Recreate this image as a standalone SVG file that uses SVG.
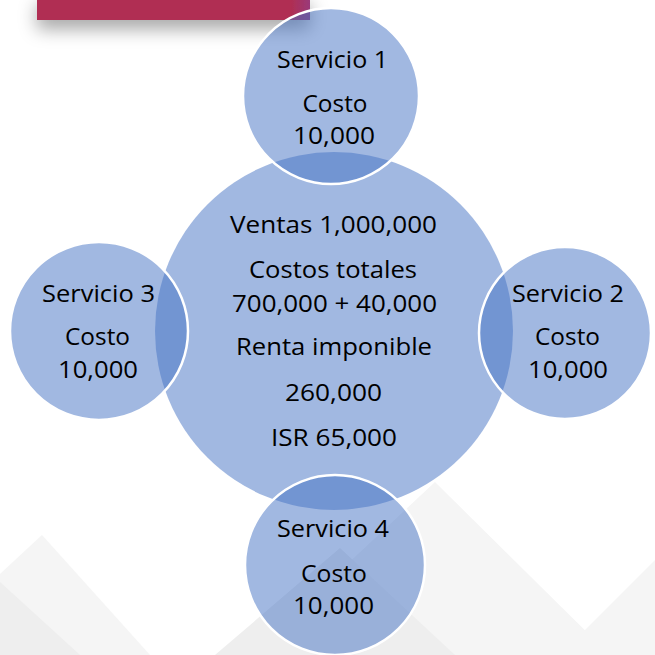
<svg xmlns="http://www.w3.org/2000/svg" width="655" height="655" viewBox="0 0 655 655">
  <defs>
    <filter id="shadow" x="-20%" y="-50%" width="140%" height="300%">
      <feDropShadow dx="0" dy="9" stdDeviation="9" flood-color="#000" flood-opacity="0.35"/>
    </filter>
    <linearGradient id="barGrad" x1="0" y1="0" x2="1" y2="0">
      <stop offset="0" stop-color="#B02E52"/>
      <stop offset="0.93" stop-color="#B02E52"/>
      <stop offset="1" stop-color="#9A3A7A"/>
    </linearGradient>
    <style>
      .bub { fill: #4472C4; fill-opacity: 0.5; }
      .sat { stroke: #FFFFFF; stroke-width: 2.5; }
      .t { font-family: "Open Sans", "Noto Sans", sans-serif; font-size: 23px; fill: #000000; text-anchor: middle; }
      .bg1 { fill: #F5F5F5; }
      .bg2 { fill: #EEEEEE; }
    </style>
  </defs>

  <rect x="0" y="0" width="655" height="655" fill="#FFFFFF"/>

  <g id="background">
    <polygon class="bg1" points="42,535 150,655 0,655 0,574"/>
    <polygon class="bg2" points="0,582 80,655 0,655"/>
    <polygon class="bg1" points="435,482 610,655 250,655"/>
    <polygon class="bg2" points="340,548 455,655 215,655"/>
    <polygon class="bg1" points="655,560 655,655 560,655"/>
    <rect x="37" y="-5" width="273" height="25" fill="url(#barGrad)" filter="url(#shadow)"/>
  </g>

  <g id="connectors"/>

  <g id="node-center">
    <circle class="bub" cx="334" cy="331" r="179"/>
    <text class="t" x="333.5" y="233" textLength="207" lengthAdjust="spacingAndGlyphs">Ventas 1,000,000</text>
    <text class="t" x="333" y="278" textLength="168" lengthAdjust="spacingAndGlyphs">Costos totales</text>
    <text class="t" x="334.5" y="312" textLength="205" lengthAdjust="spacingAndGlyphs">700,000 + 40,000</text>
    <text class="t" x="334" y="355" textLength="196" lengthAdjust="spacingAndGlyphs">Renta imponible</text>
    <text class="t" x="333.5" y="401" textLength="97" lengthAdjust="spacingAndGlyphs">260,000</text>
    <text class="t" x="334" y="446" textLength="126" lengthAdjust="spacingAndGlyphs">ISR 65,000</text>
  </g>

  <g id="node-servicio1">
    <circle class="bub sat" cx="331" cy="96" r="88"/>
    <text class="t" x="332.5" y="68" textLength="111" lengthAdjust="spacingAndGlyphs">Servicio 1</text>
    <text class="t" x="335" y="112" textLength="65" lengthAdjust="spacingAndGlyphs">Costo</text>
    <text class="t" x="334" y="144" textLength="82" lengthAdjust="spacingAndGlyphs">10,000</text>
  </g>

  <g id="node-servicio3">
    <circle class="bub sat" cx="99" cy="331" r="89"/>
    <text class="t" x="98.5" y="302" textLength="113" lengthAdjust="spacingAndGlyphs">Servicio 3</text>
    <text class="t" x="97.5" y="345" textLength="65" lengthAdjust="spacingAndGlyphs">Costo</text>
    <text class="t" x="98" y="378" textLength="80" lengthAdjust="spacingAndGlyphs">10,000</text>
  </g>

  <g id="node-servicio2">
    <circle class="bub sat" cx="565" cy="333" r="86"/>
    <text class="t" x="568" y="302" textLength="112" lengthAdjust="spacingAndGlyphs">Servicio 2</text>
    <text class="t" x="567.5" y="345" textLength="65" lengthAdjust="spacingAndGlyphs">Costo</text>
    <text class="t" x="568" y="378" textLength="80" lengthAdjust="spacingAndGlyphs">10,000</text>
  </g>

  <g id="node-servicio4">
    <circle class="bub sat" cx="335" cy="565" r="90"/>
    <text class="t" x="333" y="537" textLength="112" lengthAdjust="spacingAndGlyphs">Servicio 4</text>
    <text class="t" x="334" y="582" textLength="66" lengthAdjust="spacingAndGlyphs">Costo</text>
    <text class="t" x="333.5" y="614" textLength="81" lengthAdjust="spacingAndGlyphs">10,000</text>
  </g>
</svg>
